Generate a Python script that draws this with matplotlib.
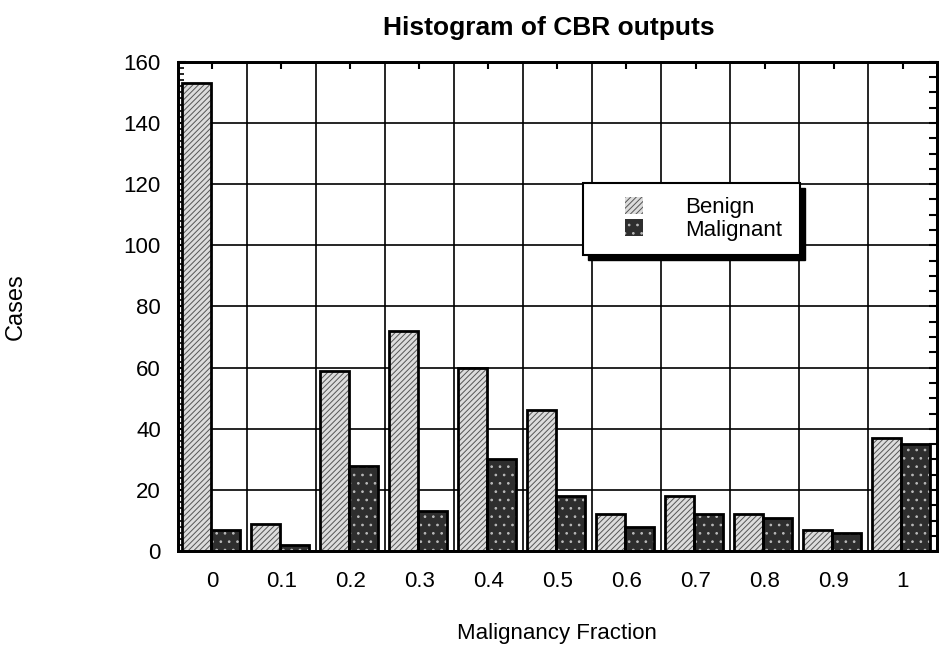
import matplotlib
matplotlib.use('Agg')
import matplotlib.pyplot as plt
import matplotlib.transforms as mtransforms
import numpy as np
from matplotlib.ticker import MultipleLocator, FixedLocator
from matplotlib.patches import Patch, Rectangle

plt.rcParams['font.family'] = ['Liberation Sans', 'DejaVu Sans']
plt.rcParams['hatch.linewidth'] = 0.7

# Data
categories = ['0', '0.1', '0.2', '0.3', '0.4', '0.5', '0.6', '0.7', '0.8', '0.9', '1']
benign = [153, 9, 59, 72, 60, 46, 12, 18, 12, 7, 37]
malignant = [7, 2, 28, 13, 30, 18, 8, 12, 11, 6, 35]

x = np.arange(len(categories))
w = 0.42

fig = plt.figure(figsize=(9.4, 6.5), dpi=100)
ax = fig.add_axes([0.189, 0.152, 0.808, 0.753])

# fill + hatch first, then black outline on top
ax.bar(x - w/2 - 0.02, benign, w, color='#dcdcdc', hatch='//////',
       edgecolor='#555555', linewidth=0, zorder=3)
ax.bar(x - w/2 - 0.02, benign, w, fill=False, edgecolor='black',
       linewidth=2, zorder=4)
ax.bar(x + w/2 - 0.02, malignant, w, color='#2e2e2e', hatch='..',
       edgecolor='#bbbbbb', linewidth=0, zorder=3)
ax.bar(x + w/2 - 0.02, malignant, w, fill=False, edgecolor='black',
       linewidth=2, zorder=4)

# legend box with a heavy drop shadow, drawn by hand
box = (0.534, 0.605)
bw, bh = 0.286, 0.148
shadow_tr = mtransforms.offset_copy(ax.transAxes, fig=fig, x=5, y=-5, units='dots')
ax.add_patch(Rectangle(box, bw, bh, transform=shadow_tr, facecolor='black',
                       edgecolor='black', zorder=5, clip_on=False))
ax.add_patch(Rectangle(box, bw, bh, transform=ax.transAxes, facecolor='white',
                       edgecolor='black', linewidth=1.5, zorder=6, clip_on=False))

handles = [Patch(facecolor='#dcdcdc', hatch='//////', edgecolor='#555555', linewidth=0),
           Patch(facecolor='#2e2e2e', hatch='..', edgecolor='#bbbbbb', linewidth=0)]
leg = ax.legend(handles, ['Benign', 'Malignant'], loc='center left',
                bbox_to_anchor=(0.589, 0.679), fontsize=16, frameon=False,
                borderpad=0, handlelength=0.8, handleheight=0.8,
                handletextpad=1.9, labelspacing=0.05, borderaxespad=0)
leg.set_zorder(7)

ax.set_xlim(-0.5, len(categories) - 0.5)
ax.set_ylim(0, 160)
ax.set_xticks(x)
ax.set_xticklabels(categories)
ax.xaxis.set_minor_locator(FixedLocator(np.arange(-0.5, len(categories), 1.0)))
ax.yaxis.set_major_locator(MultipleLocator(20))

ax.grid(True, which='minor', axis='x', color='black', linewidth=1.2, zorder=1)
ax.grid(True, which='major', axis='y', color='black', linewidth=1.2, zorder=1)
ax.set_axisbelow(True)

ax.tick_params(axis='x', which='major', direction='in', top=True, length=5,
               labelsize=16, pad=14, width=1.5)
ax.tick_params(axis='x', which='minor', length=0)
ax.tick_params(axis='y', which='major', direction='in', length=6, width=1.5,
               labelsize=16, pad=12)

# small ticks on left and right edges
ax.yaxis.set_minor_locator(MultipleLocator(2))
ax.tick_params(axis='y', which='minor', direction='in', length=4, width=1.2)
axr = ax.twinx()
axr.set_ylim(0, 160)
axr.yaxis.set_major_locator(MultipleLocator(5))
axr.tick_params(axis='y', direction='in', length=6, width=1.5, labelright=False)

for s in ax.spines.values():
    s.set_linewidth(2)
for s in axr.spines.values():
    s.set_linewidth(2)

ax.set_xlabel('Malignancy Fraction', fontsize=16)
ax.xaxis.set_label_coords(0.5, -0.147)
ax.set_ylabel('Cases', fontsize=17)
ax.yaxis.set_label_coords(-0.199, 0.499)

fig.text(0.584, 0.957, 'Histogram of CBR outputs', ha='center', va='center',
         fontsize=19, fontweight='bold')

plt.savefig('out.png', dpi=100)
